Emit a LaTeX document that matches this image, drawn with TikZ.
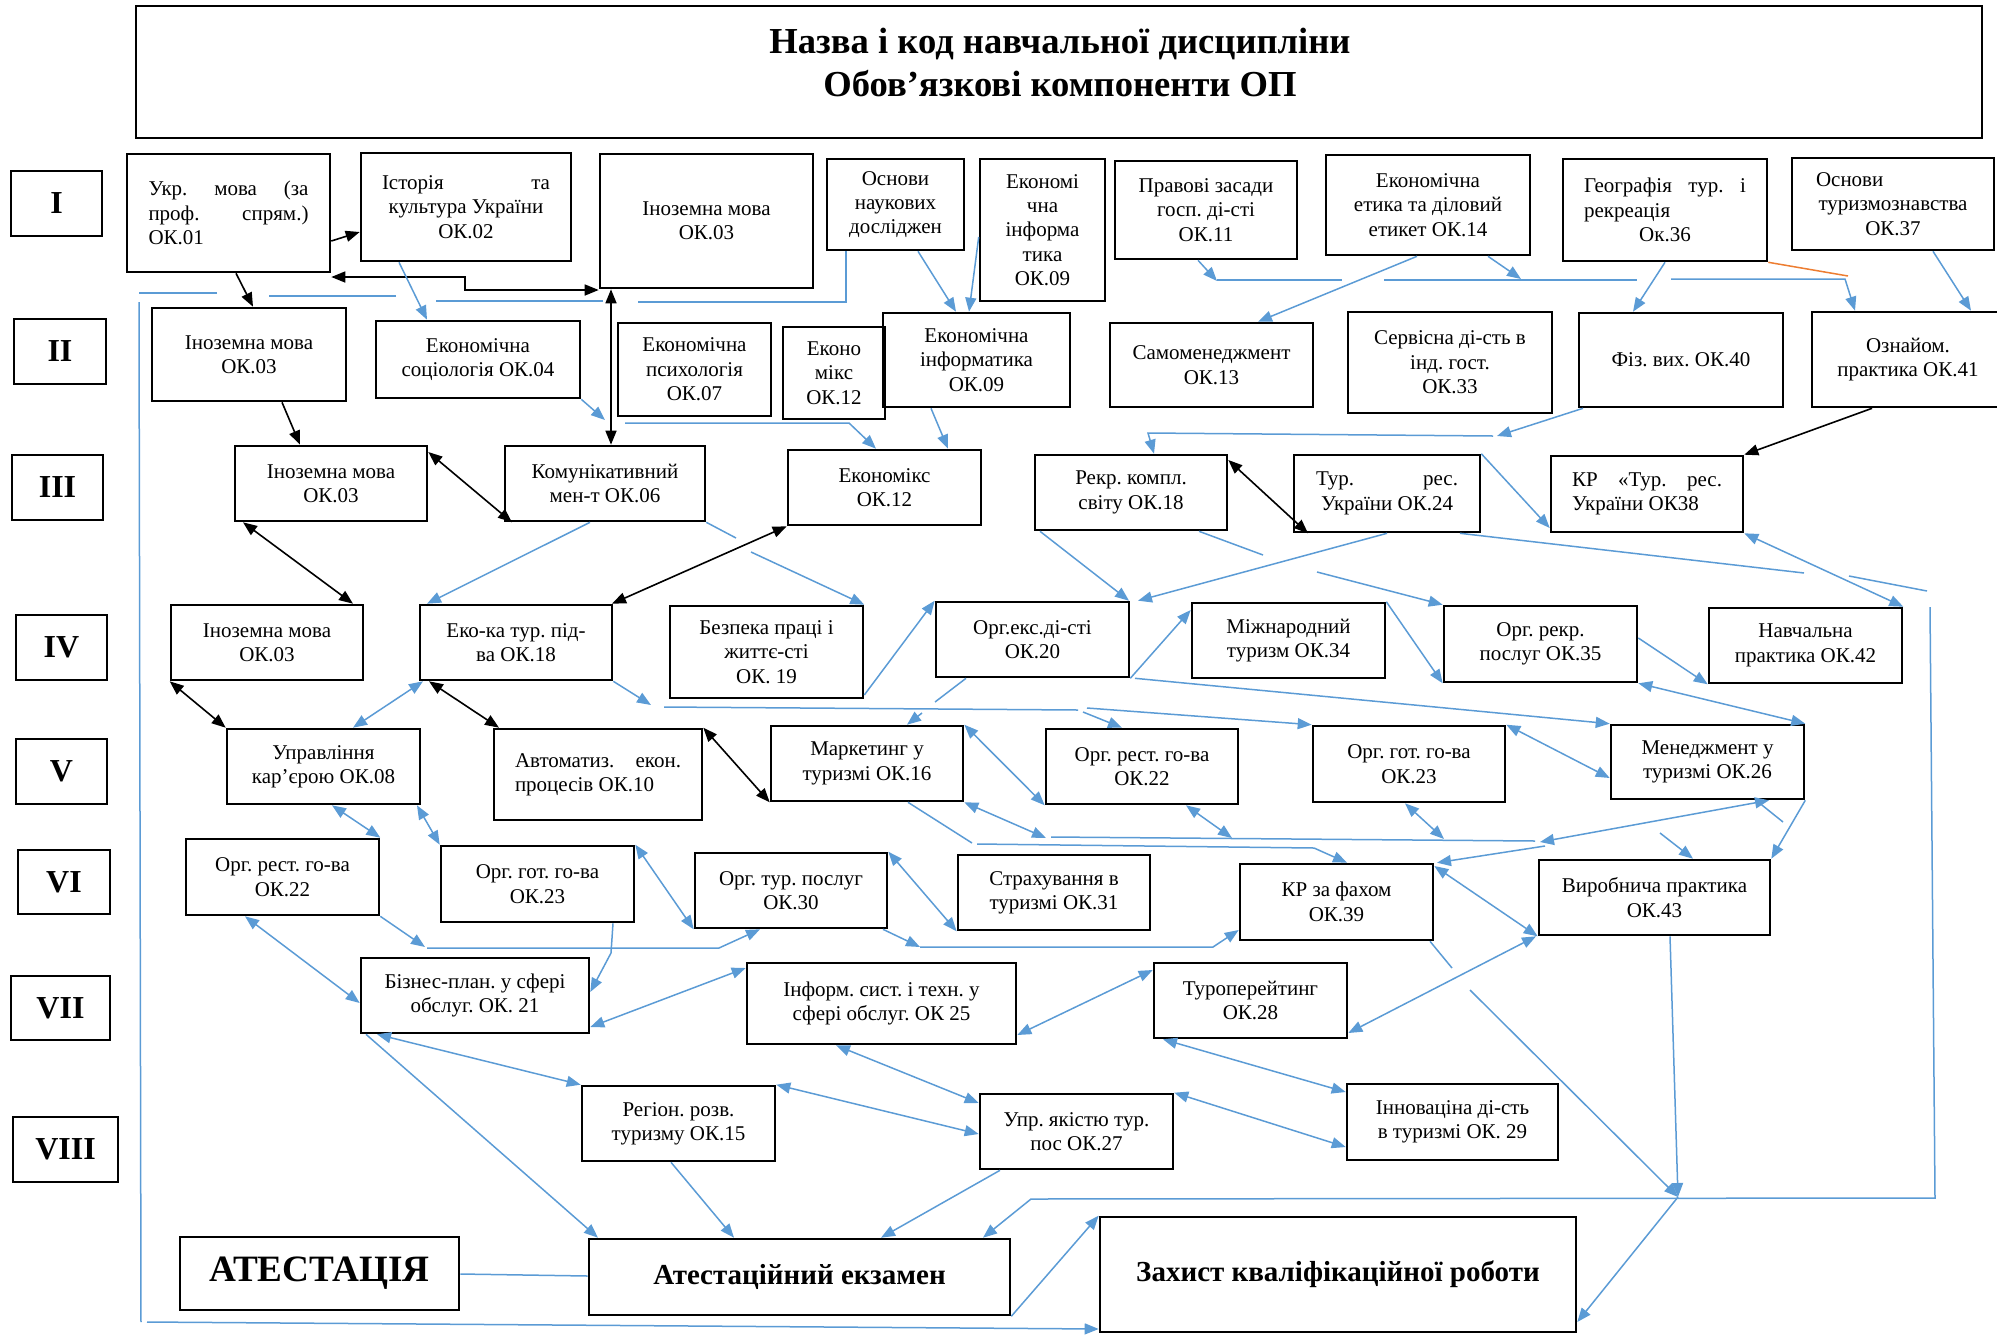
\documentclass[tikz,border=0pt]{standalone}
\usepackage{fontspec}
\setmainfont{Liberation Serif}
\usetikzlibrary{arrows.meta}
\definecolor{arrblue}{HTML}{5B9BD5}
\definecolor{orng}{HTML}{ED7D31}
\frenchspacing
\newcommand\fs{\fontsize{10.5}{12.2}\selectfont\frenchspacing}
\newcommand\romf{\fontsize{16}{18}\selectfont\bfseries}
\newcommand\ttlf{\fontsize{18.3}{21.5}\selectfont\bfseries}
\newcommand\bgf{\fontsize{14.5}{17}\selectfont\bfseries}
\newcommand\atf{\fontsize{18.6}{21}\selectfont\bfseries}
\tikzset{
 cbox/.style={draw, line width=1.3pt, align=flush center, inner xsep=7pt, inner ysep=2pt, font=\fs},
 bl/.style={draw=arrblue, line width=0.75pt},
 bk/.style={draw=black, line width=0.8pt},
 orl/.style={draw=orng, line width=0.75pt},
}
\newcommand\mkbox[7][]{%
 \pgfmathsetmacro\bxw{(#5-#3)*0.5}%
 \pgfmathsetmacro\bxh{(#6-#4)*0.5}%
 \pgfmathsetmacro\bxt{(#5-#3)*0.5-14}%
 \node[cbox, minimum width=\bxw pt, minimum height=\bxh pt, text width=\bxt pt, #1] (#2) at ({(#3+#5)/2},{(#4+#6)/2}) {#7};}
\begin{document}
\begin{tikzpicture}[x=0.5pt, y=-0.5pt, >={Triangle[length=7pt,width=5.5pt]}]
\useasboundingbox (0,0) rectangle (1997,1334);
% title
\mkbox{title}{136}{6}{1982}{138}{}
\node[font=\ttlf, align=center] (titletext) at (1060,62) {Назва і код навчальної дисципліни\\ Обов’язкові компоненти ОП};
% row labels
\mkbox[font=\romf]{rI}{11}{171}{102}{236}{I}
\mkbox[font=\romf]{rII}{14}{319}{106}{384}{II}
\mkbox[font=\romf]{rIII}{12}{455}{103}{520}{III}
\mkbox[font=\romf]{rIV}{16}{615}{107}{680}{IV}
\mkbox[font=\romf]{rV}{16}{739}{107}{804}{V}
\mkbox[font=\romf]{rVI}{18}{850}{110}{914}{VI}
\mkbox[font=\romf]{rVII}{11}{976}{110}{1040}{VII}
\mkbox[font=\romf]{rVIII}{13}{1117}{118}{1182}{VIII}
% row I
\mkbox[text width=80pt]{ukr}{127}{154}{330}{272}{Укр.\hfill мова\hfill (за\\ проф.\hfill спрям.)\\ ОК.01\hfill\null}
\mkbox[text width=84pt]{ist}{361}{153}{571}{261}{Історія\hfill та\\ культура України\\ ОК.02}
\mkbox{inI}{600}{154}{813}{288}{Іноземна мова\\ ОК.03}
\mkbox{osnn}{827}{159}{964}{250}{Основи\\ наукових\\ досліджен}
\mkbox{eiI}{980}{159}{1105}{301}{Економі\\ чна\\ інформа\\ тика\\ ОК.09}
\mkbox{prav}{1115}{161}{1297}{259}{Правові засади\\ госп. ді-сті\\ ОК.11}
\mkbox{etyka}{1326}{155}{1530}{255}{Економічна\\ етика та діловий\\ етикет ОК.14}
\mkbox[text width=81pt]{geo}{1563}{159}{1767}{261}{Географія\hfill тур.\hfill і\\ рекреація\hfill\null\\ Ок.36}
\mkbox[text width=77pt]{osnt}{1792}{158}{1994}{250}{Основи\hfill\null\\ туризмознавства\\ ОК.37}
% row II
\mkbox{inII}{152}{308}{346}{401}{Іноземна мова\\ ОК.03\\[6pt]}
\mkbox{esoc}{376}{321}{580}{398}{Економічна\\ соціологія ОК.04}
\mkbox{epsy}{618}{323}{771}{416}{Економічна\\ психологія\\ ОК.07}
\mkbox{emix}{783}{327}{885}{419}{Еконо\\ мікс\\ ОК.12}
\mkbox{eiII}{883}{313}{1070}{407}{Економічна\\ інформатика\\ ОК.09}
\mkbox{samo}{1110}{323}{1313}{407}{Самоменеджмент\\ ОК.13}
\mkbox{serv}{1348}{312}{1552}{413}{Сервісна ді-сть в\\ інд. гост.\\ ОК.33}
\mkbox{fiz}{1579}{313}{1783}{407}{Фіз. вих. ОК.40}
\mkbox{oznai}{1812}{312}{2004}{407}{Ознайом.\hspace*{14pt}\\ практика ОК.41}
% row III
\mkbox{inIII}{235}{446}{427}{521}{Іноземна мова\\ ОК.03}
\mkbox{komun}{505}{446}{705}{521}{Комунікативний\\ мен-т ОК.06}
\mkbox{ekmix}{788}{450}{981}{525}{Економікс\\ ОК.12}
\mkbox{rekr}{1035}{455}{1227}{530}{Рекр. компл.\\ світу ОК.18}
\mkbox[text width=71pt]{tur24}{1294}{455}{1480}{532}{Тур.\hfill рес.\\ України ОК.24}
\mkbox[text width=75pt]{kr38}{1551}{456}{1743}{532}{КР\hfill «Тур.\hfill рес.\\ України ОК38\hfill\null}
% row IV
\mkbox{inIV}{171}{605}{363}{680}{Іноземна мова\\ ОК.03}
\mkbox{ekotur}{420}{605}{612}{680}{Еко-ка тур. під-\\ ва ОК.18}
\mkbox{bezp}{670}{606}{863}{698}{Безпека праці і\\ життє-сті\\ ОК. 19}
\mkbox{orgeks}{936}{602}{1129}{677}{Орг.екс.ді-сті\\ ОК.20}
\mkbox{mizh}{1192}{603}{1385}{678}{Міжнародний\\ туризм ОК.34}
\mkbox{orgrekr}{1444}{606}{1637}{682}{Орг. рекр.\\ послуг ОК.35}
\mkbox{navch}{1709}{608}{1902}{683}{Навчальна\\ практика ОК.42}
% row V
\mkbox{upr}{227}{729}{420}{804}{Управління\\ кар’єрою ОК.08}
\mkbox[text width=83pt]{avto}{494}{729}{702}{820}{Автоматиз.\hfill екон.\\ процесів ОК.10\hfill\null}
\mkbox{mark}{771}{726}{963}{801}{Маркетинг у\\ туризмі ОК.16}
\mkbox{orgrestV}{1046}{729}{1238}{804}{Орг. рест. го-ва\\ ОК.22}
\mkbox{orggotV}{1313}{726}{1505}{802}{Орг. гот. го-ва\\ ОК.23}
\mkbox{menedzh}{1611}{725}{1804}{799}{Менеджмент у\\ туризмі ОК.26}
% row VI
\mkbox{orgrestVI}{186}{839}{379}{915}{Орг. рест. го-ва\\ ОК.22}
\mkbox{orggotVI}{441}{846}{634}{922}{Орг. гот. го-ва\\ ОК.23}
\mkbox{orgtur}{695}{853}{887}{928}{Орг. тур. послуг\\ ОК.30}
\mkbox{strakh}{958}{855}{1150}{930}{Страхування в\\ туризмі ОК.31}
\mkbox{krfakh}{1240}{864}{1433}{940}{КР за фахом\\ ОК.39}
\mkbox{vyrob}{1539}{860}{1770}{935}{Виробнича практика\\ ОК.43}
% row VII
\mkbox{biznes}{361}{958}{589}{1033}{Бізнес-план. у сфері\\ обслуг. ОК. 21}
\mkbox{inform}{747}{963}{1016}{1044}{Інформ. сист. і техн. у\\ сфері обслуг. ОК 25}
\mkbox{turop}{1154}{963}{1347}{1038}{Туроперейтинг\\ ОК.28}
% row VIII
\mkbox{region}{582}{1086}{775}{1161}{Регіон. розв.\\ туризму ОК.15}
\mkbox{upryak}{980}{1094}{1173}{1169}{Упр. якістю тур.\\ пос ОК.27}
\mkbox{innov}{1347}{1084}{1558}{1160}{Інноваціна ді-сть\\ в туризмі ОК. 29}
% bottom
\mkbox[font=\atf]{atest}{180}{1237}{459}{1310}{АТЕСТАЦІЯ}
\mkbox[font=\bgf]{atekz}{589}{1239}{1010}{1315}{Атестаційний екзамен}
\mkbox[font=\bgf]{zakhyst}{1100}{1217}{1576}{1332}{Захист кваліфікаційної роботи}
\coordinate (junc) at (1678,1197);

% ---------- black connectors
\draw[bk,->] (ukr.east |- 0,241) -- (ist.west |- 0,232);
\draw[bk,<->] (ukr.east |- 0,277) -- (465,277) -- (465,290) -- (inI.west |- 0,290);
\draw[bk,<->] (611,0 |- inI.south) -- (611,0 |- komun.north);
\draw[bk,->] (236,0 |- ukr.south) -- (253,0 |- inII.north);
\draw[bk,->] (282,0 |- inII.south) -- (300,0 |- inIII.north);
\draw[bk,<->] (inIII.east |- 0,452) -- (512,0 |- komun.south);
\draw[bk,<->] (243,0 |- inIII.south) -- (353,0 |- inIV.north);
\draw[bk,<->] (ekmix.south west) -- (612,0 |- ekotur.north);
\draw[bk,<->] (inIV.south west) -- (upr.north west);
\draw[bk,<->] (429,0 |- ekotur.south) -- (499,0 |- avto.north);
\draw[bk,<->] (avto.north east) -- (mark.south west);
\draw[bk,<->] (rekr.east |- 0,460) -- (1308,0 |- tur24.south);
\draw[bk,->] (1872,0 |- oznai.south) -- (kr38.north east);

% ---------- blue connectors, top area
\draw[bl,->] (399,0 |- ist.south) -- (427,0 |- esoc.north);
\draw[bl] (846,0 |- osnn.south) -- (846,302) -- (638,302);
\draw[bl] (603,301) -- (436,301);
\draw[bl] (396,296) -- (269,296);
\draw[bl] (217,293) -- (139,293);
\draw[bl] (139,302) -- (141,1322);
\draw[bl,->] (147,1322) -- (zakhyst.west |- 0,1329);
\draw[bl,->] (esoc.south east) -- (605,420);
\draw[bl,->] (625,423) -- (849,423) -- (876,0 |- ekmix.north);
\draw[bl,->] (918,0 |- osnn.south) -- (956,0 |- eiII.north);
\draw[bl,->] (eiI.west |- 0,237) -- (969,0 |- eiII.north);
\draw[bl,->] (931,0 |- eiII.south) -- (948,0 |- ekmix.north);
\draw[bl,->] (1198,0 |- prav.south) -- (1217,281);
\draw[bl] (1217,280) -- (1342,280);
\draw[bl] (1384,280) -- (1637,280);
\draw[bl,->] (1671,279) -- (1845,279) -- (1855,0 |- oznai.north);
\draw[bl,->] (1488,0 |- etyka.south) -- (1521,279);
\draw[orl] (geo.south east) -- (1848,276);
\draw[bl,->] (1665,0 |- geo.south) -- (1633,0 |- fiz.north);
\draw[bl,->] (1933,0 |- osnt.south) -- (1971,0 |- oznai.north);
\draw[bl,->] (1417,0 |- etyka.south) -- (1258,0 |- samo.north);
\draw[bl,->] (1583,0 |- fiz.south) -- (1497,436);
\draw[bl,->] (1493,436) -- (1148,433) -- (1154,0 |- rekr.north);

% ---------- rows III-IV
\draw[bl] (komun.south east) -- (736,538);
\draw[bl,->] (751,552) -- (bezp.north east);
\draw[bl,->] (590,0 |- komun.south) -- (427,0 |- ekotur.north);
\draw[bl,->] (ekotur.south east) -- (651,705);
\draw[bl] (664,707) -- (1078,710);
\draw[bl,->] (1083,712) -- (1122,0 |- orgrestV.north);
\draw[bl,->] (1087,708) -- (orggotV.north west);
\draw[bl,->] (bezp.east |- 0,695) -- (orgeks.north west);
\draw[bl,->] (1040,0 |- rekr.south) -- (1129,0 |- orgeks.north);
\draw[bl,->] (1387,0 |- tur24.south) -- (1138,0 |- orgeks.north);
\draw[bl] (1199,0 |- rekr.south) -- (1263,555);
\draw[bl,->] (1317,572) -- (orgrekr.north west);
\draw[bl,->] (tur24.north east) -- (kr38.west |- 0,528);
\draw[bl] (1460,0 |- tur24.south) -- (1804,573);
\draw[bl] (1849,576) -- (1927,591);
\draw[bl,->] (1930,607) -- (1935,1198) -- (1031,1199) -- (983,0 |- atekz.north);
\draw[bl] (966,0 |- orgeks.south) -- (935,702);
\draw[bl,->] (922,713) -- (907,0 |- mark.north);
\draw[bl,->] (orgeks.south east) -- (mizh.west |- 0,610);
\draw[bl,->] (1135,0 |- orgeks.south) -- (menedzh.north west);
\draw[bl,->] (mizh.north east) -- (orgrekr.south west);
\draw[bl,->] (orgrekr.east |- 0,638) -- (navch.south west);
\draw[bl,<->] (orgrekr.south east) -- (menedzh.north east);
\draw[bl,<->] (orggotV.north east) -- (menedzh.west |- 0,778);
\draw[bl,<->] (navch.north east) -- (kr38.south east);

% ---------- rows IV-VI
\draw[bl,<->] (423,0 |- ekotur.south) -- (353,0 |- upr.north);
\draw[bl,<->] (332,0 |- upr.south) -- (orgrestVI.north east);
\draw[bl,<->] (417,0 |- upr.south) -- (orggotVI.north west);
\draw[bl,<->] (orggotVI.north east) -- (orgtur.south west);
\draw[bl,->] (orgrestVI.south east) -- (425,947);
\draw[bl,->] (427,948) -- (719,948) -- (760,0 |- orgtur.south);
\draw[bl,->] (613,0 |- orggotVI.south) -- (611,953) -- (biznes.east |- 0,992);
\draw[bl,->] (883,0 |- orgtur.south) -- (920,947);
\draw[bl,->] (920,947) -- (1213,947) -- (krfakh.west |- 0,930);
\draw[bl,<->] (orgtur.north east) -- (strakh.south west);
\draw[bl,<->] (mark.north east) -- (orgrestV.south west);
\draw[bl,<->] (mark.south east) -- (1046,838);
\draw[bl] (1051,837) -- (1535,841);
\draw[bl,<->] (1769,0 |- menedzh.south) -- (1540,842);
\draw[bl,<->] (1186,0 |- orgrestV.south) -- (1232,838);
\draw[bl,<->] (1405,0 |- orggotV.south) -- (1444,839);
\draw[bl] (908,0 |- mark.south) -- (972,843);
\draw[bl,->] (977,844) -- (1314,848) -- (1347,0 |- krfakh.north);
\draw[bl,->] (1545,846) -- (1437,0 |- krfakh.north);
\draw[bl,->] (menedzh.south east) -- (vyrob.north east);
\draw[bl,->] (1660,833) -- (1693,0 |- vyrob.north);
\draw[bl] (1756,0 |- menedzh.south) -- (1783,822);
\draw[bl,<->] (krfakh.east |- 0,866) -- (vyrob.south west);
\draw[bl,<->] (turop.east |- 0,1033) -- (1536,0 |- vyrob.south);
\draw[bl] (1430,0 |- krfakh.south) -- (1452,968);
\draw[bl,->] (1470,990) -- (junc);
\draw[bl,->] (1670,0 |- vyrob.south) -- (junc);
\draw[bl,->] (junc) -- (zakhyst.east |- 0,1322);

% ---------- rows VI-VIII
\draw[bl,<->] (245,0 |- orgrestVI.south) -- (biznes.west |- 0,1003);
\draw[bl,<->] (biznes.east |- 0,1027) -- (inform.west |- 0,968);
\draw[bl,<->] (377,0 |- biznes.south) -- (region.north west);
\draw[bl,->] (366,0 |- biznes.south) -- (598,0 |- atekz.north);
\draw[bl] (atest.east |- 0,1274) -- (atekz.west |- 0,1276);
\draw[bl,->] (671,0 |- region.south) -- (734,0 |- atekz.north);
\draw[bl,<->] (inform.east |- 0,1035) -- (turop.west |- 0,970);
\draw[bl,<->] (836,0 |- inform.south) -- (upryak.west |- 0,1103);
\draw[bl,<->] (region.north east) -- (upryak.west |- 0,1134);
\draw[bl,<->] (1163,0 |- turop.south) -- (innov.west |- 0,1092);
\draw[bl,<->] (upryak.north east) -- (innov.west |- 0,1147);
\draw[bl,->] (1000,0 |- upryak.south) -- (881,0 |- atekz.north);
\draw[bl,->] (atekz.south east) -- (zakhyst.north west);
\end{tikzpicture}
\end{document}
